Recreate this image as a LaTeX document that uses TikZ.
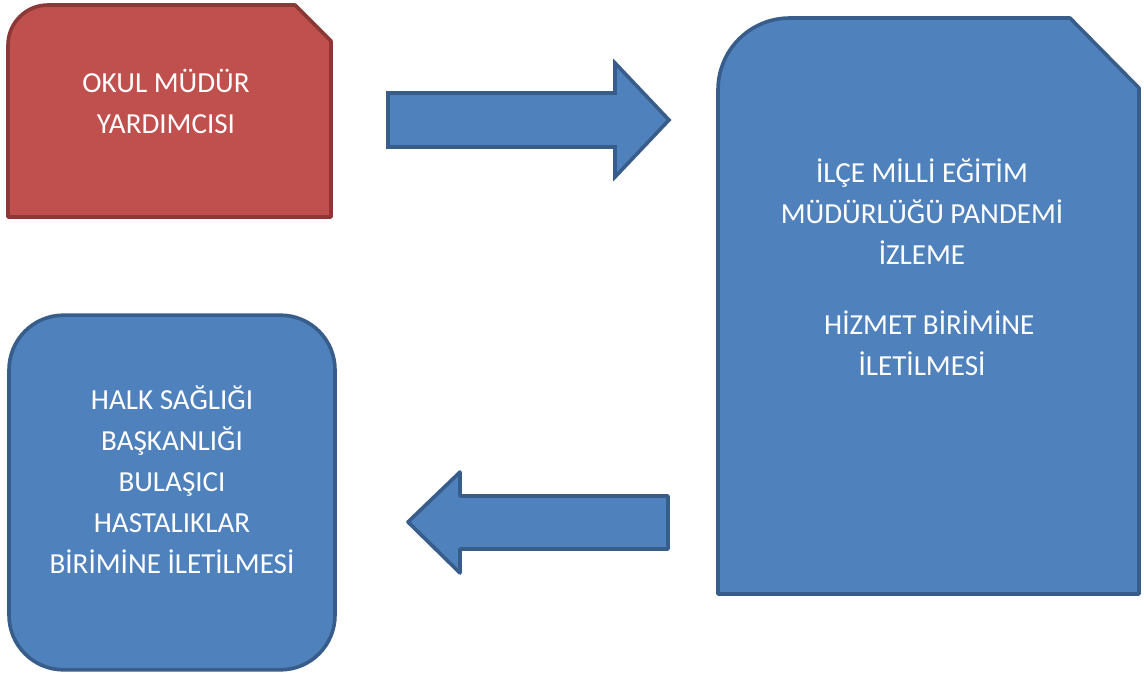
\documentclass[tikz,border=0pt]{standalone}
\usepackage{fontspec}
\setmainfont{Carlito}
\definecolor{redfill}{HTML}{C0504D}
\definecolor{redline}{HTML}{8C3836}
\definecolor{bluefill}{HTML}{4F81BD}
\definecolor{blueline}{HTML}{385D8A}
\tikzset{
  redshape/.style={fill=redfill, draw=redline, line width=2.7pt, line join=round},
  blueshape/.style={fill=bluefill, draw=blueline, line width=2.7pt, line join=round},
  label/.style={text=white, align=center, inner sep=0pt, font=\fontsize{21.8}{30.75}\selectfont},
}
\begin{document}
\begin{tikzpicture}[x=0.75pt,y=-0.75pt]
\useasboundingbox (0,0) rectangle (1144,675);
% red box: rounded top-left, snipped top-right
\path[redshape] (8,217) -- (8,45) .. controls (8,23) and (26,5) .. (48,5)
  -- (295,5) -- (331,41) -- (331,217) -- cycle;
\node[label] (okul) at (166,101) {OKUL MÜDÜR\\YARDIMCISI};
% big blue box
\path[blueshape] (718,594) -- (718,90) .. controls (718,50) and (750,18) .. (790,18)
  -- (1070,18) -- (1139,88) -- (1139,594) -- cycle;
\node[label] (ilce) at (922,267) {İLÇE MİLLİ EĞİTİM\\MÜDÜRLÜĞÜ PANDEMİ\\İZLEME\\[21.75pt]\hspace*{0.5em}HİZMET BİRİMİNE\\İLETİLMESİ};
% bottom-left rounded box
\node[blueshape, rounded corners=41pt, minimum width=244.5pt, minimum height=266pt, inner sep=0pt] (halkbox) at (172,492.5) {};
\node[label] (halk) at (172,480) {HALK SAĞLIĞI\\BAŞKANLIĞI\\BULAŞICI\\HASTALIKLAR\\BİRİMİNE İLETİLMESİ};
% right block arrow
\path[blueshape, line join=miter] (388,93) -- (615,93) -- (615,63) -- (669,120) -- (615,177) -- (615,147) -- (388,147) -- cycle;
% left block arrow
\path[blueshape] (668,496) -- (460,496) -- (460,472) -- (408,522) -- (460,573) -- (460,549) -- (668,549) -- cycle;
\end{tikzpicture}
\end{document}
